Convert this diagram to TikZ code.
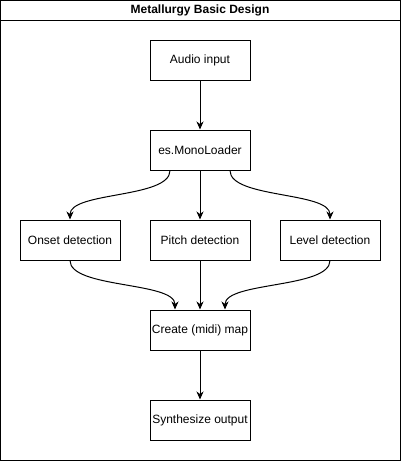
\documentclass[tikz,border=0pt]{standalone}
\usepackage{fontspec}
\setmainfont{Liberation Sans}
\usetikzlibrary{arrows.meta}
\tikzset{
  stagebox/.style={draw,line width=1pt,minimum width=100pt,minimum height=40pt,
    inner sep=0pt,font=\fontsize{12}{14}\selectfont},
  flow/.style={line width=1pt,-{Stealth[length=8pt,width=7pt,inset=2.5pt]}}
}
\begin{document}
\begin{tikzpicture}[x=1pt,y=-1pt]
\useasboundingbox (0,0) rectangle (401,461);
\draw [line width=1pt] (0.5,0.5) rectangle (400.5,460.5);
\draw [line width=1pt] (0.5,20.5) -- (400.5,20.5);
\node (title) at (200,10.5) {\fontsize{12}{14}\selectfont\bfseries Metallurgy Basic Design};
\node [stagebox] (audio) at (200,60) {Audio input};
\node [stagebox] (loader) at (200,150) {es.MonoLoader};
\node [stagebox] (onset) at (70,240) {Onset detection};
\node [stagebox] (pitch) at (200,240) {Pitch detection};
\node [stagebox] (level) at (330,240) {Level detection};
\node [stagebox] (midimap) at (200,330) {Create (midi) map};
\node [stagebox] (synth) at (200,420) {Synthesize output};
\draw [flow] (audio) -- (loader);
\draw [flow] ([xshift=-30pt]loader.south) .. controls +(0,28) and +(0,-28) .. (onset.north);
\draw [flow] (loader) -- (pitch);
\draw [flow] ([xshift=30pt]loader.south) .. controls +(0,28) and +(0,-28) .. (level.north);
\draw [flow] (onset.south) .. controls +(0,28) and +(0,-28) .. ([xshift=-25pt]midimap.north);
\draw [flow] (pitch) -- (midimap);
\draw [flow] (level.south) .. controls +(0,28) and +(0,-28) .. ([xshift=25pt]midimap.north);
\draw [flow] (midimap) -- (synth);
\end{tikzpicture}
\end{document}
